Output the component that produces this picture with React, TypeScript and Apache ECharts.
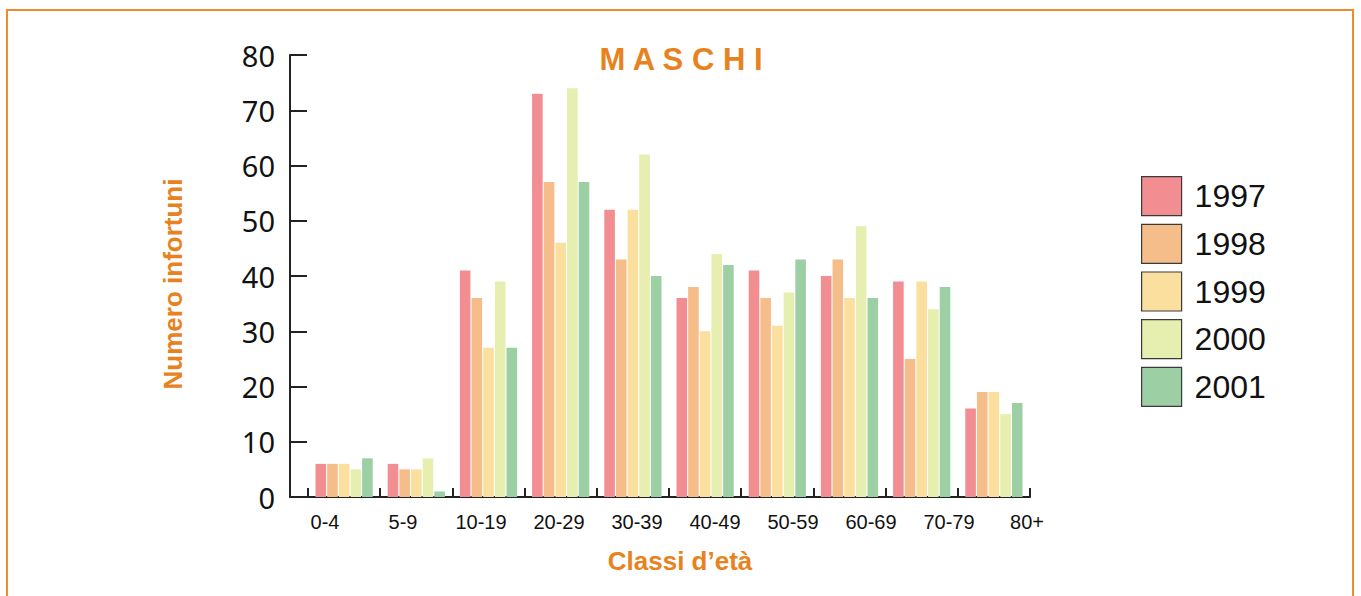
import React, { useEffect, useRef } from "react";
import * as echarts from "echarts";

const categories = ["0-4", "5-9", "10-19", "20-29", "30-39", "40-49", "50-59", "60-69", "70-79", "80+"];
const years = ["1997", "1998", "1999", "2000", "2001"];
const v1997 = [6, 6, 41, 73, 52, 36, 41, 40, 39, 16];
const v1998 = [6, 5, 36, 57, 43, 38, 36, 43, 25, 19];
const v1999 = [6, 5, 27, 46, 52, 30, 31, 36, 39, 19];
const v2000 = [5, 7, 39, 74, 62, 44, 37, 49, 34, 15];
const v2001 = [7, 1, 27, 57, 40, 42, 43, 36, 38, 17];
const seriesValues = [v1997, v1998, v1999, v2000, v2001];
const colors = ["#F28E92", "#F5BD89", "#FADF9F", "#E6EFAF", "#9DCFA4"];
const yMin = 0;
const yMax = 80;
const yStep = 10;
const titleText = "M A S C H I";
const yName = "Numero infortuni";
const xName = "Classi d\u2019età";

const ORANGE = "#E8821E";
const AXIS = "#222";

export default function App() {
  const ref = useRef<HTMLDivElement>(null);
  useEffect(() => {
    if (!ref.current) return;
    const chart = echarts.init(ref.current, null, { renderer: "svg" });
    const gridTop = 55;
    const gridH = 442;
    chart.setOption({
      animation: false,
      backgroundColor: "#fff",
      grid: [
        { left: 308, width: 722, top: gridTop, height: gridH },
        { left: 290, width: 740, top: gridTop, height: gridH },
        { left: 325, width: 702, top: gridTop, height: gridH },
      ],
      xAxis: [
        {
          gridIndex: 0,
          type: "category",
          data: categories,
          axisLine: { show: false },
          axisTick: { show: true, inside: true, length: 9, lineStyle: { color: AXIS, width: 2 } },
          axisLabel: { show: false },
          splitLine: { show: false },
        },
        {
          gridIndex: 1,
          type: "value",
          min: 0,
          max: 1,
          axisLine: { show: true, lineStyle: { color: AXIS, width: 2 } },
          axisTick: { show: false },
          axisLabel: { show: false },
          splitLine: { show: false },
        },
        {
          gridIndex: 2,
          type: "category",
          data: categories,
          boundaryGap: false,
          axisLine: { show: false },
          axisTick: { show: false },
          axisLabel: {
            show: true,
            margin: 15,
            fontSize: 20,
            fontFamily: "Liberation Sans",
            color: "#111",
            interval: 0,
          },
          splitLine: { show: false },
        },
      ],
      yAxis: [
        { gridIndex: 0, type: "value", min: yMin, max: yMax, interval: yStep, show: false },
        {
          gridIndex: 1,
          type: "value",
          min: yMin,
          max: yMax,
          interval: yStep,
          axisLine: { show: true, lineStyle: { color: AXIS, width: 2 } },
          axisTick: { show: true, inside: true, length: 17, lineStyle: { color: AXIS, width: 2 } },
          axisLabel: { show: true, margin: 15, fontSize: 29, fontFamily: "Noto Sans", color: "#111" },
          splitLine: { show: false },
        },
        { gridIndex: 2, type: "value", min: yMin, max: yMax, interval: yStep, show: false },
      ],
      legend: {
        orient: "vertical",
        left: 1141,
        top: 176,
        padding: 0,
        itemWidth: 40,
        itemHeight: 39,
        itemGap: 7.5,
        icon: "rect",
        data: years,
        itemStyle: { borderColor: "#3a3a3a", borderWidth: 1.2 },
        textStyle: { fontSize: 32, fontFamily: "Liberation Sans", color: "#111", padding: [0, 0, 0, 8] },
      },
      series: years.map((y, i) => ({
        name: y,
        type: "bar",
        xAxisIndex: 0,
        yAxisIndex: 0,
        data: seriesValues[i],
        barWidth: 10.6,
        barGap: "10%",
        itemStyle: { color: colors[i] },
      })),
      graphic: [
        {
          type: "rect",
          shape: { x: 7, y: 10, width: 1346, height: 620 },
          style: { fill: "none", stroke: "#EE8C2E", lineWidth: 2 },
          silent: true,
        },
        {
          type: "text",
          x: 681,
          y: 59,
          style: {
            text: titleText,
            fill: ORANGE,
            fontSize: 31,
            fontWeight: "bold",
            fontFamily: "Liberation Sans",
            textAlign: "center",
            textVerticalAlign: "middle",
          },
        },
        {
          type: "text",
          x: 173,
          y: 284,
          rotation: Math.PI / 2,
          style: {
            text: yName,
            fill: ORANGE,
            fontSize: 26,
            fontWeight: "bold",
            fontFamily: "Liberation Sans",
            textAlign: "center",
            textVerticalAlign: "middle",
          },
        },
        {
          type: "text",
          x: 680,
          y: 561,
          style: {
            text: xName,
            fill: ORANGE,
            fontSize: 26,
            fontWeight: "bold",
            fontFamily: "Liberation Sans",
            textAlign: "center",
            textVerticalAlign: "middle",
          },
        },
      ],
    });
    return () => chart.dispose();
  }, []);
  return (
    <div
      ref={ref}
      style={{ position: "absolute", left: 0, top: 0, width: 1361, height: 596 }}
    />
  );
}
